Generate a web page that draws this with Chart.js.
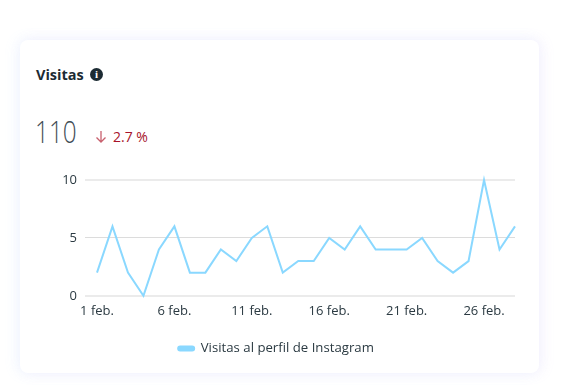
<!DOCTYPE html>
<html>
<head>
<meta charset="utf-8">
<script src="https://cdn.jsdelivr.net/npm/chart.js@4"></script>
<style>
  html, body { margin: 0; padding: 0; background: #fff; width: 579px; height: 392px; overflow: hidden; font-family: "Open Sans", sans-serif; }
  .card { position: absolute; left: 20px; top: 40px; width: 519px; height: 333px; background: #fff; border-radius: 8px; box-shadow: -3px 0 14px rgba(150, 205, 255, 0.12), 3px 0 14px rgba(190, 150, 240, 0.12); }
  .title { position: absolute; left: 36px; top: 65px; font-size: 14.5px; line-height: 20px; font-weight: 700; color: #1c2b33; }
  .info { position: absolute; left: 90px; top: 68px; width: 13px; height: 13px; border-radius: 50%; background: #1c2b33; color: #fff; font: 700 11px/13px "Liberation Serif", serif; text-align: center; }
  .total { position: absolute; left: 35px; top: 111px; font-size: 32px; line-height: 40px; font-weight: 300; color: #3f4d56; transform: scaleX(0.76); transform-origin: left center; }
  .delta { position: absolute; left: 113px; top: 127px; font-size: 14px; line-height: 20px; color: #a8132a; }
  .arrow { position: absolute; left: 95px; top: 130px; }
  .wrap { position: absolute; left: 0; top: 0; width: 540px; height: 373px; }
</style>
</head>
<body>
<div class="card"></div>
<div class="title">Visitas</div>
<div class="info">i</div>
<div class="total">110</div>
<svg class="arrow" width="12" height="13" viewBox="0 0 12 13"><path d="M6 1V12M1.5 7.5L6 12L10.5 7.5" fill="none" stroke="#c8606e" stroke-width="1.3"/></svg>
<div class="delta">2.7 %</div>
<div class="wrap"><canvas id="chart"></canvas></div>
<script>
var days = ['1 feb.', '2 feb.', '3 feb.', '4 feb.', '5 feb.', '6 feb.', '7 feb.', '8 feb.', '9 feb.', '10 feb.',
  '11 feb.', '12 feb.', '13 feb.', '14 feb.', '15 feb.', '16 feb.', '17 feb.', '18 feb.', '19 feb.', '20 feb.',
  '21 feb.', '22 feb.', '23 feb.', '24 feb.', '25 feb.', '26 feb.', '27 feb.', '28 feb.'];
var visits = [2, 6, 2, 0, 4, 6, 2, 2, 4, 3, 5, 6, 2, 3, 3, 5, 4, 6, 4, 4, 4, 5, 3, 2, 3, 10, 4, 6];
var seriesName = 'Visitas al perfil de Instagram';

var textColor = '#2b3a42';
var ctx = document.getElementById('chart').getContext('2d');
var chart = new Chart(ctx, {
  type: 'line',
  data: {
    labels: days,
    datasets: [{
      label: seriesName,
      data: visits,
      borderColor: '#8ad8ff',
      backgroundColor: '#8ad8ff',
      borderWidth: 2,
      pointRadius: 0,
      tension: 0,
      clip: false
    }]
  },
  options: {
    responsive: true,
    maintainAspectRatio: false,
    animation: false,
    layout: { padding: { left: 37, right: 25, top: 180, bottom: 8 } },
    plugins: {
      tooltip: { enabled: false },
      legend: {
        position: 'bottom',
        labels: {
          boxWidth: 16,
          boxHeight: 4,
          useBorderRadius: true,
          borderRadius: 2,
          padding: 8,
          color: textColor,
          font: { family: 'Open Sans', size: 13.2 }
        }
      }
    },
    scales: {
      x: {
        offset: false,
        border: { display: false },
        grid: { display: false, drawTicks: false },
        afterFit: function (scale) { scale.height = 38; },
        ticks: {
          autoSkip: false,
          maxRotation: 0,
          padding: 8,
          color: textColor,
          font: { family: 'Open Sans', size: 13 },
          callback: function (value, index) {
            return index % 5 === 0 ? this.getLabelForValue(value) : '';
          }
        }
      },
      y: {
        min: 0,
        max: 10,
        border: { display: false },
        afterFit: function (scale) { scale.width = 60; },
        grid: {
          tickLength: 12,
          color: function (c) { return c.tick && c.tick.value === 5 ? '#dcdcdc' : '#ebebeb'; },
          lineWidth: function (c) { return c.tick && c.tick.value === 5 ? 1 : 2; }
        },
        ticks: {
          stepSize: 5,
          padding: 8,
          color: textColor,
          font: { family: 'Open Sans', size: 13 }
        }
      }
    }
  }
});
</script>
</body>
</html>
